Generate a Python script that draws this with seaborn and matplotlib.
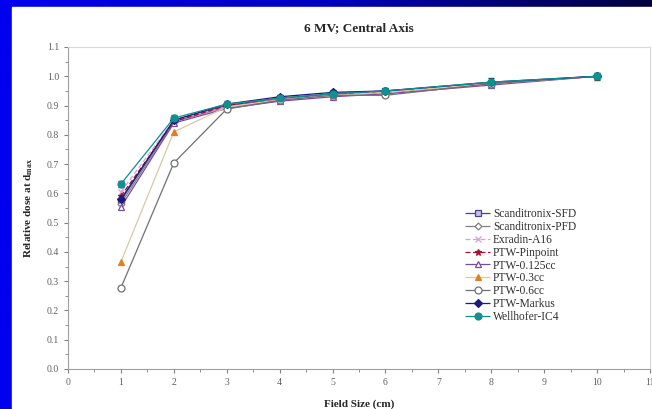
import matplotlib
matplotlib.use("Agg")
import matplotlib.pyplot as plt
from matplotlib.colors import LinearSegmentedColormap
import numpy as np
import pandas as pd
import seaborn as sns

field_size = [1, 2, 3, 4, 5, 6, 8, 10]

detectors = ["Scanditronix-SFD", "Scanditronix-PFD", "Exradin-A16", "PTW-Pinpoint",
             "PTW-0.125cc", "PTW-0.3cc", "PTW-0.6cc", "PTW-Markus", "Wellhofer-IC4"]

scan_sfd = [0.575, 0.850, 0.900, 0.925, 0.940, 0.950, 0.975, 1.0]
scan_pfd = [0.565, 0.845, 0.895, 0.920, 0.935, 0.945, 0.975, 1.0]
exradin_a16 = [0.605, 0.850, 0.895, 0.915, 0.935, 0.945, 0.975, 1.0]
ptw_pinpoint = [0.590, 0.845, 0.900, 0.920, 0.940, 0.945, 0.975, 1.0]
ptw_0125 = [0.553, 0.840, 0.890, 0.915, 0.930, 0.940, 0.970, 1.0]
ptw_03 = [0.366, 0.810, 0.895, 0.920, 0.935, 0.945, 0.975, 1.0]
ptw_06 = [0.277, 0.704, 0.888, 0.918, 0.935, 0.935, 0.975, 1.0]
ptw_markus = [0.580, 0.850, 0.905, 0.930, 0.945, 0.950, 0.980, 1.0]
wellhofer_ic4 = [0.632, 0.857, 0.905, 0.925, 0.940, 0.950, 0.980, 1.0]
ic4_err = [0.01, 0.01, 0.012, 0.01, 0.012, 0.01, 0.015, 0.012]

series = [scan_sfd, scan_pfd, exradin_a16, ptw_pinpoint, ptw_0125,
          ptw_03, ptw_06, ptw_markus, wellhofer_ic4]

rows = []
for name, vals in zip(detectors, series):
    for x, y in zip(field_size, vals):
        rows.append({"Field Size": x, "Dose": y, "Detector": name})
df = pd.DataFrame(rows)

sns.set_style("ticks")
plt.rcParams["font.family"] = ["Liberation Serif", "DejaVu Serif"]

palette = {
    "Scanditronix-SFD": "#4b3f8f", "Scanditronix-PFD": "#808080", "Exradin-A16": "#d9a0d9",
    "PTW-Pinpoint": "#a01030", "PTW-0.125cc": "#7a4aa0", "PTW-0.3cc": "#e08020",
    "PTW-0.6cc": "#707070", "PTW-Markus": "#1a1a80", "Wellhofer-IC4": "#109090",
}
markers = {
    "Scanditronix-SFD": "s", "Scanditronix-PFD": "D", "Exradin-A16": "x",
    "PTW-Pinpoint": "*", "PTW-0.125cc": "^", "PTW-0.3cc": "^",
    "PTW-0.6cc": "o", "PTW-Markus": "D", "Wellhofer-IC4": "o",
}
dashes = {
    "Scanditronix-SFD": (1, 0), "Scanditronix-PFD": (1, 0), "Exradin-A16": (4, 2),
    "PTW-Pinpoint": (4, 2), "PTW-0.125cc": (1, 0), "PTW-0.3cc": (1, 0),
    "PTW-0.6cc": (1, 0), "PTW-Markus": (1, 0), "Wellhofer-IC4": (1, 0),
}
line_colors = {"PTW-0.3cc": "#d8c8a8"}
face = {
    "Scanditronix-SFD": "#c8c0e8", "Scanditronix-PFD": "white", "PTW-0.125cc": "white",
    "PTW-0.6cc": "white",
}
sizes = {"Scanditronix-SFD": 4.5, "Scanditronix-PFD": 3.5, "Exradin-A16": 4.5, "PTW-Pinpoint": 4.5,
         "PTW-0.125cc": 4.5, "PTW-0.3cc": 5, "PTW-0.6cc": 5, "PTW-Markus": 4, "Wellhofer-IC4": 5}

fig = plt.figure(figsize=(6.52, 4.09), dpi=100)
fig.patch.set_facecolor("#0000f0")

# blue frame: gradient strip on top, solid strip on the left
bg = fig.add_axes([0, 0, 1, 1], zorder=-2)
grad = np.linspace(0, 1, 256)[None, :]
cm = LinearSegmentedColormap.from_list("g", ["#0000f0", "#0000c0", "#00003c"])
bg.imshow(grad, aspect="auto", cmap=cm, extent=[0, 1, 0, 1])
bg.add_patch(plt.Rectangle((12 / 652, 0), 1, (409 - 7) / 409, color="white"))
bg.set_xlim(0, 1)
bg.set_ylim(0, 1)
bg.axis("off")

ax = fig.add_axes([68 / 652, 40 / 409, (650 - 68) / 652, (369 - 47) / 409])
for name in detectors:
    sub = df[df["Detector"] == name]
    col = palette[name]
    sns.lineplot(data=sub, x="Field Size", y="Dose", ax=ax, label=name,
                 color=line_colors.get(name, col), linewidth=0.9,
                 marker=markers[name], markersize=sizes[name],
                 markerfacecolor=face.get(name, col), markeredgecolor=col,
                 markeredgewidth=0.9, dashes=dashes[name], errorbar=None)

ax.errorbar(field_size, wellhofer_ic4, yerr=ic4_err, fmt="none", ecolor="#404040",
            elinewidth=0.7, capsize=2, zorder=1)

ax.set_xlim(0, 11)
ax.set_ylim(0, 1.1)
ax.set_xticks(range(0, 12))
ax.set_xticks(np.arange(0, 11.01, 0.5), minor=True)
ax.set_yticks(np.arange(0, 1.11, 0.1))
ax.set_yticks(np.arange(0, 1.11, 0.05), minor=True)
ax.set_yticklabels([f"{v:.1f}" for v in np.arange(0, 1.11, 0.1)])
ax.tick_params(labelsize=7, colors="#808080", labelcolor="#606060", length=3, direction="out")
ax.tick_params(which="minor", length=2, colors="#808080")
for s in ax.spines.values():
    s.set_color("#a0a0a0")
    s.set_linewidth(0.8)
ax.spines["top"].set_color("#d8d8d8")
ax.spines["right"].set_color("#d8d8d8")

ax.set_xlabel("Field Size (cm)", fontsize=8, fontweight="bold", labelpad=9)
ax.set_ylabel("Relative dose at d$_{\\mathregular{max}}$", fontsize=8, fontweight="bold", labelpad=8)
fig.text(359 / 652, 1 - 28 / 409, "6 MV; Central Axis", ha="center", va="center",
         fontsize=9.5, fontweight="bold")

leg = ax.legend(loc="lower left", bbox_to_anchor=(0.665, 0.11), frameon=False,
                fontsize=8.3, handlelength=2.1, labelspacing=0.08, handletextpad=0.3)
for t in leg.get_texts():
    t.set_color("#303030")

fig.savefig("out.png", dpi=100)
